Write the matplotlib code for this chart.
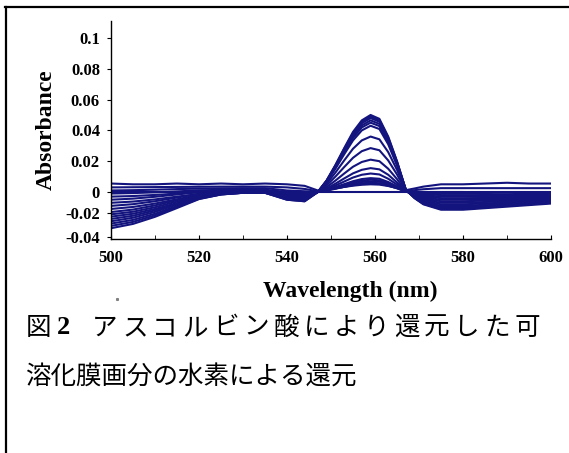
import matplotlib
matplotlib.use("Agg")
import matplotlib.pyplot as plt
from matplotlib.lines import Line2D

# wavelength grid (nm)
wavelength = [500, 505, 510, 515, 520, 525, 530, 535, 540, 544,
              547, 549, 551, 553, 555, 557, 559, 561, 563, 565, 567,
              569, 571, 575, 580, 585, 590, 595, 600]

# absorbance curves, in units of 0.001
curve_01 = [-23.5, -20.7, -16.1, -10.4, -4.6, -1.6, -0.5, -0.5, -5, -6,
            0, 7.5, 17.5, 28.5, 39, 46.5, 50, 47.5, 36, 20, 1.5,
            -4, -8, -11.5, -11.5, -10.5, -9.5, -8.5, -7.5]
curve_02 = [-22, -19.4, -15.1, -9.7, -4.4, -1.6, -0.5, -0.5, -5, -6,
            0, 7.4, 17.2, 27.9, 38.2, 45.6, 49, 46.6, 35.3, 19.6, 1.5,
            -3.9, -7.7, -11, -11, -10, -9, -8, -7]
curve_03 = [-20.5, -18.1, -14.1, -9.1, -4.1, -1.5, -0.5, -0.5, -4.5, -5.5,
            0, 7.2, 16.8, 27.4, 37.4, 44.6, 48, 45.6, 34.6, 19.2, 1.4,
            -3.7, -7.4, -10.5, -10.5, -9.6, -8.8, -7.9, -7]
curve_04 = [-19, -16.7, -12.9, -8.2, -3.4, -1.0, 0, 0, -4, -5,
            0, 7.0, 16.3, 26.5, 36.3, 43.2, 46.5, 44.2, 33.5, 18.6, 1.4,
            -3.5, -7, -10, -10, -9.1, -8.3, -7.4, -6.5]
curve_05 = [-17.5, -15.4, -11.9, -7.5, -3.2, -0.9, 0, 0, -4, -5,
            0, 6.8, 15.8, 25.7, 35.1, 41.9, 45, 42.8, 32.4, 18.0, 1.4,
            -3.3, -6.7, -9.5, -9.5, -8.6, -7.8, -6.9, -6]
curve_06 = [-16, -14.1, -11.0, -7.2, -3.3, -1.3, -0.5, -0.5, -3.5, -4.5,
            0, 6.5, 15.1, 24.5, 33.5, 40.0, 43, 40.9, 31.0, 17.2, 1.3,
            -3.2, -6.3, -9, -9, -8.3, -7.5, -6.8, -6]
curve_07 = [-14.5, -12.8, -9.9, -6.2, -2.6, -0.7, 0, 0, -3, -4,
            0, 5.4, 12.6, 20.5, 28.1, 33.5, 36, 34.2, 25.9, 14.4, 1.1,
            -2.8, -5.6, -8, -8, -7.4, -6.8, -6.1, -5.5]
curve_08 = [-13, -11.4, -8.7, -5.3, -1.9, -0.2, 0.5, 0.5, -3, -3.5,
            0, 4.3, 10.0, 16.2, 22.2, 26.5, 28.5, 27.1, 20.5, 11.4, 0.9,
            -2.5, -4.9, -7, -7, -6.5, -6, -5.5, -5]
curve_09 = [-11, -9.7, -7.5, -4.7, -2.0, -0.6, 0, 0, -2.5, -3,
            0, 3.2, 7.4, 12.0, 16.4, 19.5, 21, 20.0, 15.1, 8.4, 0.6,
            -2.1, -4.2, -6, -6, -5.6, -5.3, -4.9, -4.5]
curve_10 = [-9, -7.9, -6.0, -3.6, -1.2, 0.0, 0.5, 0.5, -2, -2.5,
            0, 2.3, 5.4, 8.8, 12.1, 14.4, 15.5, 14.7, 11.2, 6.2, 0.5,
            -1.8, -3.5, -5, -5, -4.8, -4.5, -4.3, -4]
curve_11 = [-7, -6.2, -4.8, -3.0, -1.3, -0.4, 0, 0, -1.5, -2,
            0, 1.8, 4.2, 6.8, 9.4, 11.2, 12, 11.4, 8.6, 4.8, 0.4,
            -1.4, -2.8, -4, -4, -3.9, -3.8, -3.6, -3.5]
curve_12 = [-5, -4.3, -3.1, -1.6, -0.1, 0.7, 1, 1, -1, -1.5,
            0, 1.4, 3.2, 5.1, 7.0, 8.4, 9, 8.6, 6.5, 3.6, 0.3,
            -1.1, -2.1, -3, -3, -3, -3, -3, -3]
curve_13 = [-3, -2.6, -1.9, -1.0, -0.1, 0.3, 0.5, 0.5, -0.5, -1,
            0, 1.2, 2.8, 4.6, 6.2, 7.4, 8, 7.6, 5.8, 3.2, 0.2,
            -0.7, -1.4, -2, -2, -2.1, -2.3, -2.4, -2.5]
curve_14 = [-1, -0.7, -0.2, 0.4, 1.1, 1.4, 1.5, 1.5, 0, -0.5,
            0, 1.1, 2.5, 4.0, 5.5, 6.5, 7, 6.7, 5.0, 2.8, 0.2,
            -0.4, -0.7, -1, -1, -1.3, -1.5, -1.8, -2]
curve_15 = [1, 1.2, 1.5, 1.9, 2.2, 2.4, 2.5, 2.5, 1, 0.5,
            0, 0.9, 2.1, 3.4, 4.7, 5.6, 6, 5.7, 4.3, 2.4, 0.2,
            0, 0, 0, 0, -0.3, -0.5, -0.8, -1]
curve_16 = [3, 3.1, 3.2, 3.3, 3.4, 3.5, 3.5, 3.5, 3, 2,
            0.5, 1.3, 2.3, 3.4, 4.4, 5.2, 5.5, 5.3, 4.1, 2.5, 0.7,
            1.2, 1.8, 2.5, 2.5, 2.5, 2.5, 2.5, 2.5]
curve_17 = [5.5, 5, 5, 5.5, 5, 5.5, 5, 5.5, 5, 4,
            1, 1.6, 2.4, 3.3, 4.1, 4.7, 5, 4.8, 3.9, 2.6, 1.2,
            2.3, 3.5, 5, 5, 5.5, 6, 5.5, 5.5]

baseline_x = [500, 600]
baseline_y = [0, 0]

curves = [curve_01, curve_02, curve_03, curve_04, curve_05, curve_06,
          curve_07, curve_08, curve_09, curve_10, curve_11, curve_12,
          curve_13, curve_14, curve_15, curve_16, curve_17]

ytick_pos = [0.1, 0.08, 0.06, 0.04, 0.02, 0, -0.0136, -0.0295]
ytick_lab = ['0.1', '0.08', '0.06', '0.04', '0.02', '0', '-0.02', '-0.04']
xticks = [500, 520, 540, 560, 580, 600]

caption_1 = 'アスコルビン酸により還元した可'
caption_2 = '溶化膜画分の水素による還元'

navy = '#14147f'
serif = 'Liberation Serif'
cjk = ['Noto Sans CJK JP', 'DejaVu Sans']

fig = plt.figure(figsize=(5.69, 4.53), dpi=100)
ax = fig.add_axes([111 / 569, 214 / 453, 440 / 569, 218 / 453])

for c in curves:
    ax.plot(wavelength, [v / 1000 for v in c], color=navy, lw=1.5)
ax.plot(baseline_x, baseline_y, color=navy, lw=1.5)

ax.set_xlim(500, 600)
ax.set_ylim(-0.0305, 0.111)
ax.spines['top'].set_visible(False)
ax.spines['right'].set_visible(False)
ax.spines['left'].set_linewidth(1)
ax.spines['bottom'].set_linewidth(1)

ax.set_xticks(xticks)
ax.set_xticks(range(510, 600, 20), minor=True)
ax.tick_params(axis='x', which='both', direction='in', length=3, pad=8)
ax.set_yticks(ytick_pos)
ax.set_yticklabels(ytick_lab)
ax.tick_params(axis='y', direction='out', length=3, pad=5)
for lab in ax.get_xticklabels() + ax.get_yticklabels():
    lab.set_fontfamily(serif)
    lab.set_fontweight('bold')
    lab.set_fontsize(12)

ax.set_ylabel('Absorbance', fontfamily=serif, fontweight='bold', fontsize=17, labelpad=6)
ax.set_xlabel('Wavelength (nm)', fontfamily=serif, fontweight='bold', fontsize=17)
ax.xaxis.set_label_coords(0.543, -0.19)

# caption, first line is spread out to the full width
y1 = 1 - 328 / 453
fig.text(26 / 569, y1, '図', family=cjk, fontsize=18.4, va='center', ha='left')
fig.text(57 / 569, y1, '2', family=serif, fontweight='bold', fontsize=19, va='center', ha='left')
for i, ch in enumerate(caption_1):
    fig.text((92 + i * 30.2) / 569, y1, ch, family=cjk, fontsize=18.4, va='center', ha='left')
fig.text(25 / 569, 1 - 378 / 453, caption_2,
         family=cjk, fontsize=18.4, va='center', ha='left')

# page frame (left and top edge)
fig.add_artist(Line2D([6 / 569, 6 / 569], [0, 1 - 7 / 453], color='black', lw=1.6,
                      transform=fig.transFigure))
fig.add_artist(Line2D([5 / 569, 1], [1 - 7 / 453, 1 - 7 / 453], color='black', lw=1.6,
                      transform=fig.transFigure))
fig.add_artist(Line2D([117 / 569], [1 - 299 / 453], marker='s', ms=1.2, color='gray',
                      lw=0, transform=fig.transFigure))

fig.savefig('out.png', dpi=100)
